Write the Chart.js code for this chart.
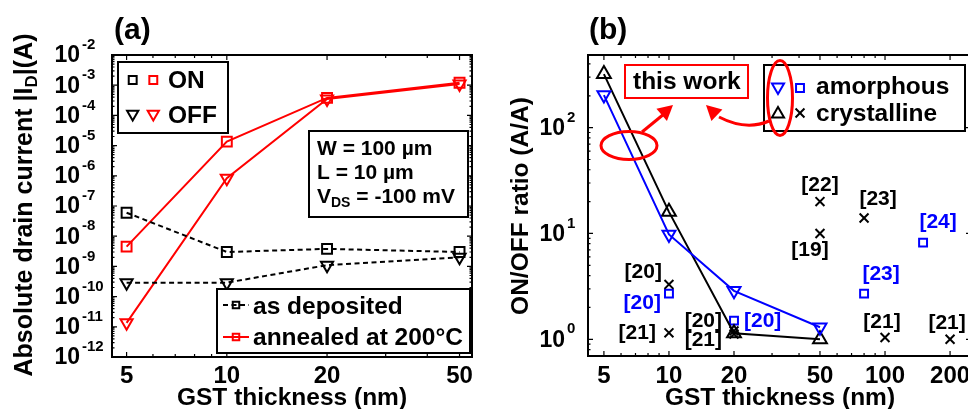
<!DOCTYPE html>
<html>
<head>
<meta charset="utf-8">
<script src="https://cdn.jsdelivr.net/npm/chart.js@4/dist/chart.umd.min.js"></script>
<style>
  html, body { margin: 0; padding: 0; background: #fff; overflow: hidden; width: 968px; height: 409px; }
  canvas { position: absolute; left: 0; top: 0; }
</style>
</head>
<body>
<canvas id="chartA" width="968" height="409"></canvas>
<canvas id="chartB" width="1000" height="409"></canvas>
<script>
// ---- panel (a): drain current vs GST thickness ----
const thicknessA = [5, 10, 20, 50];
const depositedOn = [6e-8, 3e-9, 3.8e-9, 3e-9];
const depositedOff = [2.9e-10, 2.9e-10, 1.1e-9, 2e-9];
const annealedOn = [4.5e-9, 1.35e-5, 3.8e-4, 1.2e-3];
const annealedOff = [1.35e-11, 8.3e-7, 3.5e-4, 1.1e-3];
const xTicksA = [5, 10, 20, 50];
const xMinorA = [6, 7, 8, 9, 30, 40];
const yExpA = [-12, -11, -10, -9, -8, -7, -6, -5, -4, -3, -2];

// ---- panel (b): ON/OFF ratio vs GST thickness ----
const thicknessB = [5, 10, 20, 50];
const ratioAmorphous = [203, 9.8, 2.87, 1.3];
const ratioCrystalline = [321, 16, 1.14, 1.0];
const litCrystX = [10, 10, 20, 20, 50, 50, 80, 100, 200];
const litCrystY = [3.3, 1.15, 1.2, 1.12, 20, 10, 14, 1.04, 1.0];
const litCrystRef = ['[20]', '[21]', '[20]', '[21]', '[22]', '[19]', '[23]', '[21]', '[21]'];
const litAmorX = [10, 20, 80, 150];
const litAmorY = [2.7, 1.5, 2.7, 8.2];
const litAmorRef = ['[20]', '[20]', '[23]', '[24]'];
const xTicksB = [5, 10, 20, 50, 100, 200];
const xMinorB = [6, 7, 8, 9, 30, 40, 60, 70, 80, 90];
const yExpB = [0, 1, 2];

// label placement next to the literature points: [dx, dy, align]
const crystLabelPos = [[-7, -12, 'right'], [-13, 0, 'right'], [-12, -10, 'right'], [-12, 6, 'right'],
  [0, -16, 'center'], [-10, 17, 'center'], [14, -19, 'center'], [-3, -15, 'center'], [-3, -16, 'center']];
const amorLabelPos = [[-8, 10, 'right'], [10, 1, 'left'], [17, -19, 'center'], [15, -20, 'center']];

const FONT = '"Liberation Sans", Arial, Helvetica, sans-serif';
const RED = '#ff0000';
const BLUE = '#0000ff';

function font(size) {
  return 'bold ' + size + 'px ' + FONT;
}

function pts(xs, ys) {
  return xs.map((x, i) => ({ x, y: ys[i] }));
}

function drawMarker(ctx, type, x, y, r, color, lw) {
  ctx.save();
  ctx.strokeStyle = color;
  ctx.lineWidth = lw || 2;
  ctx.beginPath();
  if (type === 'square') {
    const s = r * Math.SQRT1_2;
    ctx.rect(x - s, y - s, 2 * s, 2 * s);
  } else if (type === 'up' || type === 'down') {
    const d = type === 'up' ? -1 : 1;
    ctx.moveTo(x, y + d * r);
    ctx.lineTo(x - r * 0.866, y - d * r * 0.5);
    ctx.lineTo(x + r * 0.866, y - d * r * 0.5);
    ctx.closePath();
  } else if (type === 'cross') {
    const s = r * Math.SQRT1_2;
    ctx.moveTo(x - s, y - s); ctx.lineTo(x + s, y + s);
    ctx.moveTo(x + s, y - s); ctx.lineTo(x - s, y + s);
  }
  ctx.stroke();
  ctx.restore();
}

function drawText(ctx, txt, x, y, size, color, align) {
  ctx.font = font(size);
  ctx.fillStyle = color || '#000';
  ctx.textAlign = align || 'left';
  ctx.textBaseline = 'middle';
  ctx.fillText(txt, x, y);
}

// MATLAB-like box with inward ticks and 10^n labels
function drawAxes(chart, o) {
  const ctx = chart.ctx, a = chart.chartArea;
  const xs = chart.scales.x, ys = chart.scales.y;
  ctx.save();
  ctx.strokeStyle = '#000';
  ctx.lineWidth = 1.2;
  ctx.beginPath();
  const tickX = (v, len) => {
    const px = xs.getPixelForValue(v);
    if (px < a.left || px > a.right) return;
    ctx.moveTo(px, a.bottom); ctx.lineTo(px, a.bottom - len);
    ctx.moveTo(px, a.top); ctx.lineTo(px, a.top + len);
  };
  const tickY = (v, len) => {
    const py = ys.getPixelForValue(v);
    if (py < a.top - 0.5 || py > a.bottom + 0.5) return;
    ctx.moveTo(a.left, py); ctx.lineTo(a.left + len, py);
    ctx.moveTo(a.right, py); ctx.lineTo(a.right - len, py);
  };
  o.xTicks.forEach(v => tickX(v, 5));
  o.xMinor.forEach(v => tickX(v, 3));
  o.yExp.forEach(e => {
    tickY(Math.pow(10, e), 5);
    for (let m = 2; m <= 9; m++) tickY(m * Math.pow(10, e), 2.5);
  });
  tickY(Math.pow(10, o.yExp[0] - 1) * 9, 2.5);
  for (let m = 2; m <= 9; m++) tickY(m * Math.pow(10, o.yExp[0] - 1), 2.5);
  ctx.stroke();

  ctx.lineWidth = 2;
  ctx.strokeRect(a.left, a.top, a.right - a.left, a.bottom - a.top);

  o.xTicks.forEach(v => {
    drawText(ctx, String(v), xs.getPixelForValue(v), 376, 24, '#000', 'center');
  });
  o.yExp.forEach(e => {
    const py = ys.getPixelForValue(Math.pow(10, e));
    drawText(ctx, '10', o.yLabelRight, py + 1, 23, '#000', 'right');
    drawText(ctx, String(e).replace('-', '-'), o.yLabelRight + 2, py - 10, 15, '#000', 'left');
  });
  ctx.restore();
}

function arrowHead(ctx, fromX, fromY, tipX, tipY, len, half) {
  const ang = Math.atan2(tipY - fromY, tipX - fromX);
  const bx = tipX - Math.cos(ang) * len, by = tipY - Math.sin(ang) * len;
  ctx.beginPath();
  ctx.moveTo(tipX, tipY);
  ctx.lineTo(bx + Math.sin(ang) * half, by - Math.cos(ang) * half);
  ctx.lineTo(bx - Math.sin(ang) * half, by + Math.cos(ang) * half);
  ctx.closePath();
  ctx.fill();
}

const panelA = {
  id: 'panelA',
  afterDraw(chart) {
    const ctx = chart.ctx;
    drawAxes(chart, { xTicks: xTicksA, xMinor: xMinorA, yExp: yExpA, yLabelRight: 80 });
    ctx.save();
    drawText(ctx, '(a)', 114, 31, 30, '#000', 'left');
    drawText(ctx, 'GST thickness (nm)', 292, 398, 24.5, '#000', 'center');

    // rotated y title with subscript D
    ctx.translate(25, 205);
    ctx.rotate(-Math.PI / 2);
    const p1 = 'Absolute drain current |I', p2 = 'D', p3 = '|(A)';
    ctx.font = font(25); const w1 = ctx.measureText(p1).width, w3 = ctx.measureText(p3).width;
    ctx.font = font(17); const w2 = ctx.measureText(p2).width;
    let x0 = -(w1 + w2 + w3) / 2;
    drawText(ctx, p1, x0, 0, 25, '#000', 'left');
    drawText(ctx, p2, x0 + w1, 7, 17, '#000', 'left');
    drawText(ctx, p3, x0 + w1 + w2, 0, 25, '#000', 'left');
    ctx.setTransform(1, 0, 0, 1, 0, 0);

    // ON / OFF legend
    ctx.fillStyle = '#fff';
    ctx.fillRect(118, 62, 110, 71);
    ctx.strokeStyle = '#000'; ctx.lineWidth = 2;
    ctx.strokeRect(118, 62, 110, 71);
    drawMarker(ctx, 'square', 132.7, 80, 5.6, '#000', 2);
    drawMarker(ctx, 'square', 153.3, 80, 5.6, RED, 2);
    drawMarker(ctx, 'down', 132.7, 114, 6.5, '#000', 2);
    drawMarker(ctx, 'down', 153.3, 114, 6.5, RED, 2);
    drawText(ctx, 'ON', 168, 81, 24.5);
    drawText(ctx, 'OFF', 168, 116, 24.5);

    // device parameters
    ctx.fillStyle = '#fff';
    ctx.fillRect(309, 131, 159, 86);
    ctx.strokeRect(309, 131, 159, 86);
    drawText(ctx, 'W = 100 \u00b5m', 317, 149, 21);
    drawText(ctx, 'L = 10 \u00b5m', 317, 173, 21);
    drawText(ctx, 'V', 317, 197, 21);
    ctx.font = font(21); const wv = ctx.measureText('V').width;
    drawText(ctx, 'DS', 317 + wv, 203, 14);
    ctx.font = font(14); const wds = ctx.measureText('DS').width;
    drawText(ctx, ' = -100 mV', 317 + wv + wds, 197, 21);

    // condition legend
    ctx.fillStyle = '#fff';
    ctx.fillRect(217, 289, 253, 64);
    ctx.strokeStyle = '#000'; ctx.lineWidth = 2;
    ctx.strokeRect(217, 289, 253, 64);
    ctx.lineWidth = 2;
    ctx.setLineDash([5, 3.5]);
    ctx.beginPath(); ctx.moveTo(223, 305); ctx.lineTo(249, 305); ctx.stroke();
    ctx.setLineDash([]);
    ctx.strokeStyle = RED;
    ctx.beginPath(); ctx.moveTo(223, 337); ctx.lineTo(249, 337); ctx.stroke();
    drawMarker(ctx, 'square', 236, 305, 4.6, '#000', 2);
    drawMarker(ctx, 'square', 236, 337, 4.6, RED, 2);
    drawText(ctx, 'as deposited', 253, 307, 24.5);
    drawText(ctx, 'annealed at 200\u00b0C', 253, 338, 24.5);
    ctx.restore();
  }
};

const panelB = {
  id: 'panelB',
  afterDatasetsDraw(chart) {
    const ctx = chart.ctx, xs = chart.scales.x, ys = chart.scales.y;
    ctx.save();
    litCrystRef.forEach((ref, i) => {
      const p = crystLabelPos[i];
      drawText(ctx, ref, xs.getPixelForValue(litCrystX[i]) + p[0], ys.getPixelForValue(litCrystY[i]) + p[1], 21, '#000', p[2]);
    });
    litAmorRef.forEach((ref, i) => {
      const p = amorLabelPos[i];
      drawText(ctx, ref, xs.getPixelForValue(litAmorX[i]) + p[0], ys.getPixelForValue(litAmorY[i]) + p[1], 21, BLUE, p[2]);
    });
    ctx.restore();
  },
  afterDraw(chart) {
    const ctx = chart.ctx;
    drawAxes(chart, { xTicks: xTicksB, xMinor: xMinorB, yExp: yExpB, yLabelRight: 565 });
    ctx.save();
    drawText(ctx, '(b)', 589, 31, 30, '#000', 'left');
    drawText(ctx, 'GST thickness (nm)', 780, 398, 24.5, '#000', 'center');
    ctx.translate(521, 206);
    ctx.rotate(-Math.PI / 2);
    drawText(ctx, 'ON/OFF ratio (A/A)', 0, 0, 24.5, '#000', 'center');
    ctx.setTransform(1, 0, 0, 1, 0, 0);

    // "this work" box
    ctx.fillStyle = '#fff';
    ctx.fillRect(625, 65, 123, 33);
    ctx.strokeStyle = RED; ctx.lineWidth = 2;
    ctx.strokeRect(625, 65, 123, 33);
    drawText(ctx, 'this work', 633, 82, 24.5);

    // material legend
    ctx.fillStyle = '#fff';
    ctx.fillRect(764, 65, 201, 66);
    ctx.strokeStyle = '#000'; ctx.lineWidth = 2;
    ctx.strokeRect(764, 65, 201, 66);
    drawMarker(ctx, 'down', 778, 87, 7, BLUE, 2);
    drawMarker(ctx, 'square', 800, 88, 5.6, BLUE, 2);
    drawMarker(ctx, 'up', 778, 114, 7, '#000', 2);
    drawMarker(ctx, 'cross', 800, 113, 6.3, '#000', 2);
    drawText(ctx, 'amorphous', 816, 87, 24.5);
    drawText(ctx, 'crystalline', 816, 114, 24.5);

    // red highlight ellipses and arrows
    ctx.strokeStyle = RED; ctx.fillStyle = RED; ctx.lineWidth = 3;
    ctx.beginPath(); ctx.ellipse(629, 145.5, 28, 14, 0, 0, Math.PI * 2); ctx.stroke();
    ctx.beginPath(); ctx.ellipse(780, 98, 12.5, 37.5, 0, 0, Math.PI * 2); ctx.stroke();
    ctx.beginPath(); ctx.moveTo(642, 132); ctx.lineTo(664, 114); ctx.stroke();
    arrowHead(ctx, 642, 132, 673, 105, 15, 8);
    ctx.beginPath(); ctx.moveTo(769, 121); ctx.quadraticCurveTo(746, 131, 719, 117); ctx.stroke();
    arrowHead(ctx, 724, 122, 706, 105, 15, 8);
    ctx.restore();
  }
};

const hiddenScale = (min, max) => ({ type: 'logarithmic', display: false, bounds: 'data', min, max });

new Chart(document.getElementById('chartA'), {
  type: 'scatter',
  data: {
    datasets: [
      { data: pts(thicknessA, depositedOn), showLine: true, borderColor: '#000', borderWidth: 2, borderDash: [5, 3.5],
        pointStyle: 'rect', pointRadius: 7, pointBorderWidth: 2, pointBorderColor: '#000', pointBackgroundColor: 'rgba(0,0,0,0)' },
      { data: pts(thicknessA, depositedOff), showLine: true, borderColor: '#000', borderWidth: 2, borderDash: [5, 3.5],
        pointStyle: 'triangle', pointRotation: 180, pointRadius: 7, pointBorderWidth: 2, pointBorderColor: '#000', pointBackgroundColor: 'rgba(0,0,0,0)' },
      { data: pts(thicknessA, annealedOn), showLine: true, borderColor: RED, borderWidth: 2,
        pointStyle: 'rect', pointRadius: 7, pointBorderWidth: 2, pointBorderColor: RED, pointBackgroundColor: 'rgba(0,0,0,0)' },
      { data: pts(thicknessA, annealedOff), showLine: true, borderColor: RED, borderWidth: 2,
        pointStyle: 'triangle', pointRotation: 180, pointRadius: 7, pointBorderWidth: 2, pointBorderColor: RED, pointBackgroundColor: 'rgba(0,0,0,0)' },
    ],
  },
  options: {
    responsive: false,
    animation: false,
    devicePixelRatio: 1,
    layout: { padding: { left: 112, top: 55, right: 496, bottom: 52 } },
    scales: { x: hiddenScale(4.52, 54.5), y: hiddenScale(1e-12, 1e-2) },
    plugins: { legend: { display: false }, tooltip: { enabled: false } },
  },
  plugins: [panelA],
});

new Chart(document.getElementById('chartB'), {
  type: 'scatter',
  data: {
    datasets: [
      { data: pts(thicknessB, ratioAmorphous), showLine: true, borderColor: BLUE, borderWidth: 2,
        pointStyle: 'triangle', pointRotation: 180, pointRadius: 7.5, pointBorderWidth: 2, pointBorderColor: BLUE, pointBackgroundColor: 'rgba(0,0,0,0)' },
      { data: pts(thicknessB, ratioCrystalline), showLine: true, borderColor: '#000', borderWidth: 2,
        pointStyle: 'triangle', pointRadius: 8, pointBorderWidth: 2, pointBorderColor: '#000', pointBackgroundColor: 'rgba(0,0,0,0)' },
      { data: pts(litCrystX, litCrystY), showLine: false,
        pointStyle: 'crossRot', pointRadius: 6.3, pointBorderWidth: 2, pointBorderColor: '#000' },
      { data: pts(litAmorX, litAmorY), showLine: false,
        pointStyle: 'rect', pointRadius: 5.6, pointBorderWidth: 2, pointBorderColor: BLUE, pointBackgroundColor: 'rgba(0,0,0,0)' },
    ],
  },
  options: {
    responsive: false,
    animation: false,
    devicePixelRatio: 1,
    layout: { padding: { left: 588, top: 55, right: 29, bottom: 53 } },
    scales: { x: hiddenScale(4.22, 250), y: hiddenScale(0.695, 486) },
    plugins: { legend: { display: false }, tooltip: { enabled: false } },
  },
  plugins: [panelB],
});
</script>
</body>
</html>
